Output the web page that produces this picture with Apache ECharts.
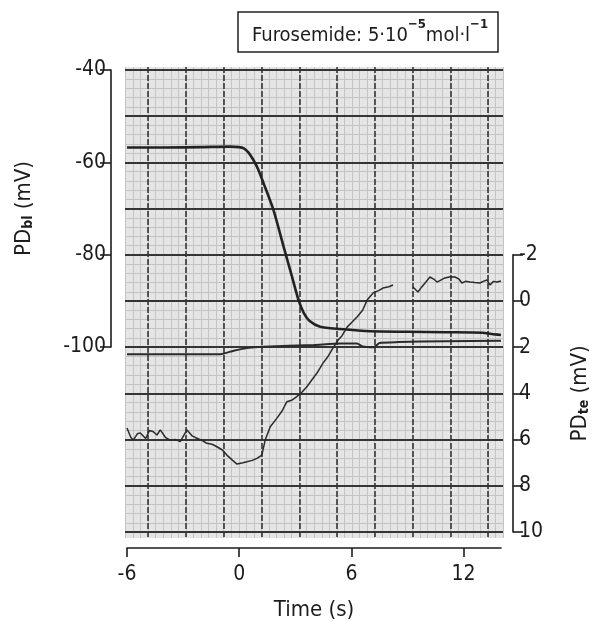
<!DOCTYPE html>
<html>
<head>
<meta charset="utf-8">
<script src="https://cdn.jsdelivr.net/npm/echarts@6/dist/echarts.min.js"></script>
<style>
html,body{margin:0;padding:0;background:#fff;}
#c{width:593px;height:622px;}
</style>
</head>
<body>
<div id="c"></div>
<script>
// ---- data ----
// PD_bl trace (left axis, mV)
const blTime = [-6, -4, -2, -0.5, 0, 0.25, 0.5, 0.76, 1.0, 1.3, 1.83, 2.37, 2.82, 3.17, 3.45, 3.75, 4.33, 5.4, 7.0, 9, 11, 13, 13.5, 14];
const blValue = [-56.8, -56.8, -56.7, -56.6, -56.7, -57.0, -57.9, -59.5, -61.4, -64.5, -70.3, -78.2, -84.7, -89.8, -92.6, -94.3, -95.6, -96.1, -96.6, -96.7, -96.8, -96.9, -97.2, -97.4];
// second (reference) trace near -100 mV (left axis)
const refTime = [-6, -3, -1.0, -0.3, 0.4, 1.3, 4.0, 5.4, 6.3, 6.6, 7.2, 7.5, 8.5, 11, 14];
const refValue = [-101.5, -101.5, -101.5, -100.75, -100.2, -99.9, -99.5, -99.2, -99.2, -99.85, -100, -99.1, -98.9, -98.7, -98.6];
// PD_te trace (right axis, mV), null = pen gap
const teTime = [-6, -5.8, -5.66, -5.45, -5.29, -5.0, -4.8, -4.59, -4.4, -4.22, -3.95, -3.69, -3.4, -3.15, -2.95, -2.79, -2.5, -2.26, -1.95, -1.73, -1.45, -1.19, -0.9, -0.66, -0.35, -0.12, 0.2, 0.41, 0.7, 0.95, 1.21, 1.39, 1.66, 2.01, 2.3, 2.55, 2.8, 3.08, 3.35, 3.62, 3.9, 4.15, 4.49, 4.75, 5.02, 5.29, 5.5, 5.77, 6.05, 6.3, 6.6, 6.84, 7.16, 7.45, 7.69, 8.0, 8.23, 8.7, 9.29, 9.56, 9.75, 9.94, 10.2, 10.4, 10.58, 11.0, 11.3, 11.54, 11.75, 11.91, 12.1, 12.34, 12.6, 12.87, 13.05, 13.25, 13.41, 13.6, 13.78, 14];
const teValue = [5.5, 5.9, 6.02, 5.75, 5.71, 5.95, 5.6, 5.66, 5.8, 5.58, 5.9, 6.02, 6.0, 6.09, 5.8, 5.58, 5.85, 5.94, 6.05, 6.16, 6.2, 6.31, 6.45, 6.67, 6.9, 7.06, 7.0, 6.96, 6.9, 6.81, 6.67, 6.02, 5.44, 5.08, 4.75, 4.36, 4.3, 4.14, 3.95, 3.71, 3.4, 3.13, 2.68, 2.4, 2.03, 1.69, 1.5, 1.13, 0.9, 0.69, 0.4, -0.04, -0.35, -0.45, -0.56, -0.62, -0.69, null, -0.61, -0.39, -0.6, -0.78, -1.04, -0.95, -0.82, -1.0, -1.05, -1.04, -0.95, -0.78, -0.85, -0.82, -0.8, -0.78, -0.85, -0.91, -0.69, -0.85, -0.82, -0.87];
// tick labels
const timeTicks = [-6, 0, 6, 12];
const blTicks = [-40, -60, -80, -100];
const teTicks = [-2, 0, 2, 4, 6, 8, 10];

const pairs = (t, v) => t.map((x, i) => [x, v[i] === null ? '-' : v[i]]);

const FONT = "'DejaVu Sans Condensed', 'DejaVu Sans', sans-serif";
const INK = '#1c1c1c';
const MINOR = '#c4c4c4';
const MAJOR = '#353535';

function hiddenAxis(gridIndex, extra) {
  return Object.assign({
    type: 'value', gridIndex: gridIndex, min: 0, max: 1,
    axisLine: {show: false}, axisTick: {show: false}, axisLabel: {show: false},
    splitLine: {show: false}
  }, extra || {});
}

const gridBase = {show: false, outerBoundsMode: 'none', containLabel: false};

const option = {
  animation: false,
  backgroundColor: '#ffffff',
  title: {
    text: '{a|Furosemide: 5·10}{sup|−5}{a|mol·l}{sup|−1}',
    left: 238, top: 12,
    borderColor: '#222', borderWidth: 1.5,
    padding: [6, 10, 6, 14],
    textStyle: {
      fontWeight: 'normal',
      rich: {
        a: {fontFamily: FONT, fontSize: 20, fontWeight: 'normal', color: INK, lineHeight: 28, verticalAlign: 'bottom'},
        sup: {fontFamily: FONT, fontSize: 13, color: INK, fontWeight: 'bold', lineHeight: 16, verticalAlign: 'top'}
      }
    }
  },
  grid: [
    // 0 paper background
    Object.assign({}, gridBase, {show: true, left: 125, top: 67, width: 378, height: 471, backgroundColor: '#e5e5e5', borderWidth: 0}),
    // 1 minor vertical lines
    Object.assign({}, gridBase, {left: 125.5, top: 67, width: 377.6, height: 471}),
    // 2 major vertical lines
    Object.assign({}, gridBase, {left: 148.2, top: 67, width: 340, height: 471}),
    // 3 horizontal lines
    Object.assign({}, gridBase, {left: 125, top: 70, width: 378, height: 462}),
    // 4 data grid
    Object.assign({}, gridBase, {left: 127, top: 70, width: 374, height: 462}),
    // 5 left axis grid (-100..-40)
    Object.assign({}, gridBase, {left: 127, top: 70, width: 374, height: 277}),
    // 6 right axis grid (-2..10)
    Object.assign({}, gridBase, {left: 127, top: 254.8, width: 374, height: 277.2})
  ],
  xAxis: [
    hiddenAxis(0),
    hiddenAxis(1, {min: 0, max: 50, interval: 1, z: 1, splitLine: {show: true, lineStyle: {color: MINOR, width: 1}}}),
    hiddenAxis(2, {min: 0, max: 9, interval: 1, z: 3, splitLine: {show: true, lineStyle: {color: MAJOR, width: 1.6, type: [6, 2]}}}),
    hiddenAxis(3),
    {
      type: 'value', gridIndex: 4, min: -6, max: 14, interval: 6,
      position: 'bottom', offset: 16,
      axisLine: {show: true, onZero: false, lineStyle: {color: INK, width: 1.6}},
      axisTick: {show: true, length: 9, customValues: timeTicks, lineStyle: {color: INK, width: 1.6}},
      axisLabel: {show: true, customValues: timeTicks, margin: 16, fontFamily: FONT, fontSize: 21, color: INK},
      splitLine: {show: false},
      name: 'Time (s)', nameLocation: 'middle', nameGap: 51,
      nameTextStyle: {fontFamily: FONT, fontSize: 22, color: INK}
    },
    hiddenAxis(5, {min: -6, max: 14}),
    hiddenAxis(6, {min: -6, max: 14})
  ],
  yAxis: [
    hiddenAxis(0),
    hiddenAxis(1),
    hiddenAxis(2),
    hiddenAxis(3, {min: -140, max: -40, interval: 2, z: 1, splitLine: {show: true, lineStyle: {color: MINOR, width: 1}}}),
    hiddenAxis(3, {min: -140, max: -40, interval: 10, z: 4, position: 'right', splitLine: {show: true, lineStyle: {color: MAJOR, width: 1.8}}}),
    hiddenAxis(4, {min: -140, max: -40}),
    {
      type: 'value', gridIndex: 5, min: -100, max: -40, interval: 20,
      position: 'left', offset: 16,
      axisLine: {show: true, onZero: false, lineStyle: {color: INK, width: 1.6}},
      axisTick: {show: true, length: 11, customValues: blTicks, lineStyle: {color: INK, width: 1.6}},
      axisLabel: {show: true, customValues: blTicks, margin: 5, fontFamily: FONT, fontSize: 21, color: INK},
      splitLine: {show: false},
      name: '{a|PD}{sub|bl}{a| (mV)}', nameLocation: 'middle', nameGap: 76, nameRotate: 90,
      nameTextStyle: {
        rich: {
          a: {fontFamily: FONT, fontSize: 22, color: INK, lineHeight: 22, verticalAlign: 'top'},
          sub: {fontFamily: FONT, fontSize: 14, color: INK, fontWeight: 'bold', lineHeight: 14, padding: [12, 0, 0, 0], verticalAlign: 'bottom'}
        }
      }
    },
    {
      type: 'value', gridIndex: 6, min: -2, max: 10, interval: 2, inverse: true,
      position: 'right', offset: 12,
      axisLine: {show: true, onZero: false, lineStyle: {color: INK, width: 1.6}},
      axisTick: {show: true, length: 10, customValues: teTicks, lineStyle: {color: INK, width: 1.6}},
      axisLabel: {show: true, customValues: teTicks, margin: 6, fontFamily: FONT, fontSize: 21, color: INK},
      splitLine: {show: false},
      name: '{a|PD}{sub|te}{a| (mV)}', nameLocation: 'middle', nameGap: 56, nameRotate: 90,
      nameTextStyle: {
        rich: {
          a: {fontFamily: FONT, fontSize: 22, color: INK, lineHeight: 22, verticalAlign: 'top'},
          sub: {fontFamily: FONT, fontSize: 14, color: INK, fontWeight: 'bold', lineHeight: 14, padding: [12, 0, 0, 0], verticalAlign: 'bottom'}
        }
      }
    }
  ],
  series: [
    {
      name: 'PD_bl', type: 'line', xAxisIndex: 5, yAxisIndex: 6,
      data: pairs(blTime, blValue), showSymbol: false, smooth: 0.25, clip: false,
      lineStyle: {color: '#222', width: 2.6}, z: 5
    },
    {
      name: 'reference', type: 'line', xAxisIndex: 4, yAxisIndex: 5,
      data: pairs(refTime, refValue), showSymbol: false, smooth: 0.2, clip: false,
      lineStyle: {color: '#2a2a2a', width: 2}, z: 5
    },
    {
      name: 'PD_te', type: 'line', xAxisIndex: 6, yAxisIndex: 7,
      data: pairs(teTime, teValue), showSymbol: false, connectNulls: false, clip: false,
      lineStyle: {color: '#2a2a2a', width: 1.5}, z: 5
    }
  ]
};

const chart = echarts.init(document.getElementById('c'), null, {renderer: 'canvas'});
chart.setOption(option);
</script>
</body>
</html>
